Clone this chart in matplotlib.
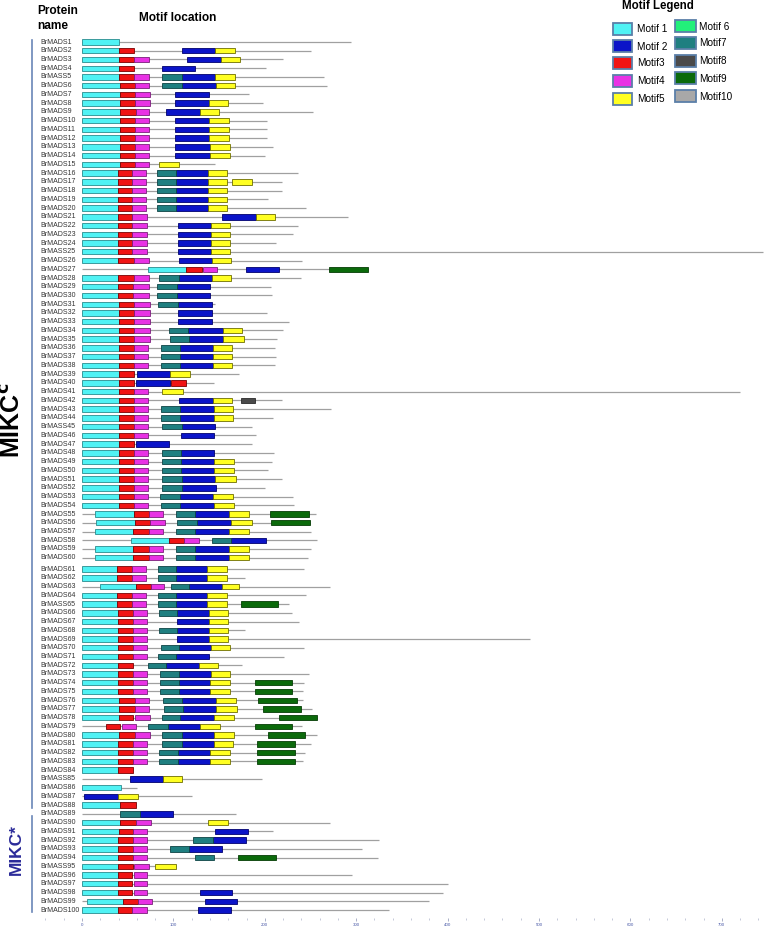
import matplotlib
matplotlib.use("Agg")
import matplotlib.pyplot as plt
from matplotlib.patches import Rectangle
from matplotlib.ticker import MultipleLocator

plt.rcParams['font.family'] = ['Liberation Sans', 'DejaVu Sans']

W, H = 766, 927

proteins = [
 "BrMADS1","BrMADS2","BrMADS3","BrMADS4","BrMASS5","BrMADS6","BrMADS7","BrMADS8","BrMADS9","BrMADS10",
 "BrMADS11","BrMADS12","BrMADS13","BrMADS14","BrMADS15","BrMADS16","BrMADS17","BrMADS18","BrMADS19","BrMADS20",
 "BrMADS21","BrMADS22","BrMADS23","BrMADS24","BrMASS25","BrMADS26","BrMADS27","BrMADS28","BrMADS29","BrMADS30",
 "BrMADS31","BrMADS32","BrMADS33","BrMADS34","BrMADS35","BrMADS36","BrMADS37","BrMADS38","BrMADS39","BrMADS40",
 "BrMADS41","BrMADS42","BrMADS43","BrMADS44","BrMASS45","BrMADS46","BrMADS47","BrMADS48","BrMADS49","BrMADS50",
 "BrMADS51","BrMADS52","BrMADS53","BrMADS54","BrMADS55","BrMADS56","BrMADS57","BrMADS58","BrMADS59","BrMADS60",
 "BrMADS61","BrMADS62","BrMADS63","BrMADS64","BrMASS65","BrMADS66","BrMADS67","BrMADS68","BrMADS69","BrMADS70",
 "BrMADS71","BrMADS72","BrMADS73","BrMADS74","BrMADS75","BrMADS76","BrMADS77","BrMADS78","BrMADS79","BrMADS80",
 "BrMADS81","BrMADS82","BrMADS83","BrMADS84","BrMASS85","BrMADS86","BrMADS87","BrMADS88","BrMADS89","BrMADS90",
 "BrMADS91","BrMADS92","BrMADS93","BrMADS94","BrMASS95","BrMADS96","BrMADS97","BrMADS98","BrMADS99","BrMADS100"]

lengths = [
 294,251,220,201,265,268,183,198,253,202,
 202,202,209,200,145,236,219,219,204,245,
 291,236,231,212,745,241,313,240,207,208,
 146,202,226,220,213,211,212,211,172,144,
 720,219,272,209,186,190,186,210,208,204,
 219,200,231,232,256,249,251,257,250,247,
 243,178,271,245,226,230,237,178,490,243,
 221,175,248,243,242,242,252,257,241,257,
 250,244,242,56,197,60,120,59,168,271,
 209,325,306,324,103,295,400,395,380,336]

# (row, start, end)
motif1 = [
 (1,0,40),(2,0,40),(3,0,40),(4,0,40),(5,0,40),(6,0,42),(7,0,42),(8,0,42),(9,0,42),(10,0,42),
 (11,0,42),(12,0,42),(13,0,42),(14,0,42),(15,0,42),(16,0,39),(17,0,39),(18,0,39),(19,0,39),(20,0,39),
 (21,0,39),(22,0,39),(23,0,39),(24,0,39),(25,0,39),(26,0,39),(27,72,114),(28,0,39),(29,0,39),(30,0,39),
 (31,0,40),(32,0,40),(33,0,40),(34,0,40),(35,0,40),(36,0,40),(37,0,40),(38,0,40),(39,0,40),(40,0,40),
 (41,0,40),(42,0,40),(43,0,40),(44,0,40),(45,0,40),(46,0,40),(47,0,40),(48,0,40),(49,0,40),(50,0,40),
 (51,0,40),(52,0,40),(53,0,40),(54,0,40),(55,14,57),(56,15,58),(57,14,56),(58,54,95),(59,14,56),(60,14,56),
 (61,0,38),(62,0,38),(63,20,59),(64,0,38),(65,0,38),(66,0,39),(67,0,39),(68,0,39),(69,0,39),(70,0,39),
 (71,0,39),(72,0,39),(73,0,39),(74,0,39),(75,0,39),(76,0,40),(77,0,40),(78,0,40),(80,0,40),
 (81,0,39),(82,0,39),(83,0,39),(84,0,39),(86,0,43),(88,0,42),(90,0,42),
 (91,0,41),(92,0,39),(93,0,39),(94,0,39),(95,0,39),(96,0,39),(97,0,39),(98,0,39),(99,6,45),(100,0,39)]

motif2 = [
 (2,109,145),(3,115,152),(4,88,124),(5,109,146),(6,109,147),(7,102,139),(8,102,139),(9,92,129),
 (10,102,139),(11,102,139),(12,102,139),(13,102,140),(14,102,140),(16,103,138),(17,103,138),
 (18,103,138),(19,103,138),(20,103,138),(21,153,190),(22,105,141),(23,105,141),(24,105,141),
 (25,105,141),(26,106,142),(27,179,216),(28,106,142),(29,104,140),(30,104,140),(31,105,142),
 (32,105,142),(33,105,142),(34,116,154),(35,117,154),(36,107,143),(37,107,143),(38,107,143),
 (39,60,96),(40,59,96),(42,106,143),(43,107,144),(44,107,144),(45,109,146),(46,108,144),
 (47,59,95),(48,108,144),(49,108,144),(50,108,144),(51,109,146),(52,109,147),(53,107,143),
 (54,107,144),(55,124,161),(56,126,163),(57,124,161),(58,163,201),(59,124,161),(60,124,161),
 (61,103,137),(62,103,137),(63,117,153),(64,103,137),(65,103,137),(66,104,139),(67,104,139),
 (68,104,139),(69,104,139),(70,106,141),(71,103,139),(72,92,128),(73,106,141),(74,106,140),
 (75,106,140),(76,109,147),(77,111,147),(78,107,144),(79,94,129),(80,109,144),(81,109,144),
 (82,105,140),(83,105,140),(85,52,89),(87,2,39),(89,63,100),(91,146,182),(92,143,179),
 (93,117,153),(98,129,164),(99,135,170),(100,127,163)]

motif3 = [
 (2,40,57),(3,40,57),(4,40,57),(5,40,57),(6,42,58),(7,42,58),(8,42,58),(9,42,59),(10,42,58),
 (11,42,58),(12,42,58),(13,42,58),(14,42,58),(15,42,58),(16,39,55),(17,39,55),(18,39,55),
 (19,39,55),(20,39,55),(21,39,55),(22,39,55),(23,39,55),(24,39,55),(25,39,55),(26,39,57),
 (27,114,131),(28,39,57),(29,39,56),(30,39,56),(31,40,57),(32,40,57),(33,40,57),(34,40,57),
 (35,40,57),(36,40,57),(37,40,57),(38,40,57),(39,40,57),(40,40,57),(40,97,114),(41,40,57),
 (42,40,57),(43,40,57),(44,40,57),(45,40,57),(46,40,57),(47,40,57),(48,40,57),(49,40,57),
 (50,40,57),(51,40,57),(52,40,57),(53,40,57),(54,40,57),(55,57,73),(56,58,74),(57,56,73),
 (58,95,112),(59,56,73),(60,56,73),(61,38,55),(62,38,55),(63,59,75),(64,38,55),(65,38,55),
 (66,39,56),(67,39,56),(68,39,56),(69,39,56),(70,39,56),(71,39,56),(72,39,56),(73,39,56),
 (74,39,56),(75,39,56),(76,40,58),(77,40,58),(78,40,56),(79,26,42),(80,40,58),(81,39,56),
 (82,39,56),(83,39,56),(84,39,56),(88,42,59),(90,42,59),(91,41,56),(92,39,56),(93,39,56),
 (94,39,56),(95,39,56),(96,39,55),(97,39,55),(98,39,55),(99,45,61),(100,39,55)]

motif4 = [
 (3,57,73),(5,57,73),(6,58,73),(7,58,74),(8,58,74),(9,59,73),(10,58,73),(11,58,73),(12,58,73),
 (13,58,73),(14,58,73),(15,58,73),(16,55,70),(17,55,70),(18,55,70),(19,55,70),(20,55,70),
 (21,55,71),(22,55,71),(23,55,71),(24,55,71),(25,55,71),(26,57,73),(27,132,148),(28,57,73),
 (29,56,73),(30,56,73),(31,57,74),(32,57,74),(33,57,74),(34,57,74),(35,57,74),(36,57,72),
 (37,57,72),(38,57,72),(41,57,72),(42,57,72),(43,57,72),(44,57,72),(45,57,72),(46,57,72),
 (48,57,72),(49,57,72),(50,57,72),(51,57,72),(52,57,72),(53,57,72),(54,57,72),(55,73,89),
 (56,74,91),(57,73,89),(58,112,128),(59,73,89),(60,73,89),(61,55,70),(62,55,70),(63,75,90),
 (64,55,70),(65,55,70),(66,56,71),(67,56,71),(68,56,71),(69,56,71),(70,56,71),(71,56,71),
 (73,56,71),(74,56,71),(75,56,71),(76,58,73),(77,58,73),(78,58,74),(79,44,59),(80,58,74),
 (81,56,71),(82,56,71),(83,56,71),(90,59,75),(91,56,71),(92,56,71),(93,56,71),(94,56,71),
 (95,57,73),(96,57,71),(97,57,71),(98,57,71),(99,61,77),(100,55,71)]

motif5 = [
 (2,146,167),(3,152,173),(5,146,167),(6,147,167),(8,139,160),(9,129,150),(10,139,161),
 (11,139,161),(12,139,161),(13,140,162),(14,140,162),(15,84,106),(16,138,159),(17,138,159),
 (17,164,186),(18,138,159),(19,138,159),(20,138,159),(21,190,211),(22,141,162),(23,141,162),
 (24,141,162),(25,141,162),(26,142,163),(28,142,163),(34,154,175),(35,154,177),(36,143,164),
 (37,143,164),(38,143,164),(39,96,118),(41,88,111),(42,143,164),(43,144,165),(44,144,165),
 (49,144,166),(50,144,166),(51,146,168),(53,143,165),(54,144,166),(55,161,183),(56,163,186),
 (57,161,183),(59,161,183),(60,161,183),(61,137,159),(62,137,159),(63,153,172),(64,137,159),
 (65,137,159),(66,139,160),(67,139,160),(68,139,160),(69,139,160),(70,141,162),(72,128,149),
 (73,141,162),(74,140,162),(75,140,162),(76,147,168),(77,147,170),(78,144,166),(79,129,151),
 (80,144,166),(81,144,165),(82,140,162),(83,140,162),(85,89,109),(87,39,61),(90,138,160),
 (95,80,103)]

motif6 = []

motif7 = [
 (5,88,109),(6,88,109),(16,82,103),(17,82,103),(18,82,103),(19,82,103),(20,82,103),
 (28,84,106),(29,82,104),(30,82,104),(31,83,105),(34,95,116),(35,96,117),(36,86,107),
 (37,86,107),(38,86,107),(43,86,107),(44,86,107),(45,88,109),(48,88,108),(49,88,108),
 (50,88,108),(51,88,109),(52,88,109),(53,85,107),(54,86,107),(55,103,124),(56,104,126),
 (57,103,124),(58,142,163),(59,103,124),(60,103,124),(61,83,103),(62,83,103),(63,97,117),
 (64,83,103),(65,83,103),(66,84,104),(68,84,104),(70,86,106),(71,83,103),(72,72,92),
 (73,85,106),(74,85,106),(75,85,106),(76,89,109),(77,90,111),(78,88,107),(79,72,94),
 (80,88,109),(81,88,109),(82,84,105),(83,84,105),(89,42,63),(92,121,143),(93,96,117),
 (94,124,144)]

motif8 = [(42,174,189)]

motif9 = [
 (27,270,313),(55,206,248),(56,207,249),(65,174,214),(74,189,230),(75,189,230),(76,193,235),
 (77,198,240),(78,216,257),(79,189,230),(80,203,244),(81,191,233),(82,191,233),(83,191,233),
 (94,171,212)]

motif10 = []

legend_labels = ["Motif 1", "Motif 2", "Motif3", "Motif4", "Motif5",
                 "Motif 6", "Motif7", "Motif8", "Motif9", "Motif10"]
tick_values = [0, 100, 200, 300, 400, 500, 600, 700]

face = ['#50f2f4', '#0b14c8', '#f01414', '#e832e4', '#ffff22',
        '#22f07a', '#1f7f80', '#4a4a4a', '#0b6a0b', '#a8a8a8']
edge = ['#2a8c8e', '#00006e', '#7a0000', '#7a207a', '#6e6e00',
        '#107040', '#0e4444', '#2a2a2a', '#053d05', '#6a6a6a']
motifs = [motif1, motif2, motif3, motif4, motif5, motif6, motif7, motif8, motif9, motif10]

fig = plt.figure(figsize=(W / 100, H / 100), dpi=100)

def fx(px):
    return px / W

def fy(py):
    return 1 - py / H

# axes geometry (pixels)
ax_left_px, ax_right_px = 40, 766
ax_top_px, ax_bot_px = 38, 918
ax = fig.add_axes([fx(ax_left_px), fy(ax_bot_px), fx(ax_right_px - ax_left_px), (ax_bot_px - ax_top_px) / H])

px_per_unit = 0.914
x0 = -(82 - ax_left_px) / px_per_unit
x1 = x0 + (ax_right_px - ax_left_px) / px_per_unit
ax.set_xlim(x0, x1)

row_gap_after = 60
def rowy(r):
    return r + (0.3 if r > row_gap_after else 0.0)

row_px = (910 - 42) / (99 + 0.3)
ytop = 1 - (42 - ax_top_px) / row_px
ybot = rowy(100) + (ax_bot_px - 910) / row_px
ax.set_ylim(ybot, ytop)

for s in ax.spines.values():
    s.set_visible(False)
ax.set_yticks([])
ax.set_xticks(tick_values)
ax.xaxis.set_minor_locator(MultipleLocator(20))
ax.tick_params(axis='x', which='major', length=2, width=0.5, color='#8890b0',
               labelsize=3.2, labelcolor='#4a5aa8', pad=1.5)
ax.tick_params(axis='x', which='minor', length=1.5, width=0.4, color='#9aa0bb')

bar_h = 0.62
for i, (name, L) in enumerate(zip(proteins, lengths)):
    r = i + 1
    y = rowy(r)
    ax.hlines(y, 0, L, color='#a0a0a0', lw=0.9, zorder=1)
    ax.text(x0 + 0.5, y, name, ha='left', va='center', fontsize=5.0, color='#333333')

for k, segs in enumerate(motifs):
    for (r, a, b) in segs:
        y = rowy(r)
        ax.add_patch(Rectangle((a, y - bar_h / 2), b - a, bar_h, facecolor=face[k],
                               edgecolor=edge[k], lw=0.6, zorder=3))

# headers
fig.text(fx(37), fy(11), "Protein", fontsize=8.6, fontweight='bold', ha='left', va='center')
fig.text(fx(37), fy(26), "name", fontsize=8.6, fontweight='bold', ha='left', va='center')
fig.text(fx(139), fy(18), "Motif location", fontsize=8.6, fontweight='bold', ha='left', va='center')
fig.text(fx(622), fy(6), "Motif Legend", fontsize=8.3, fontweight='bold', ha='left', va='center')

# legend
col1_boxes = [(613, 23), (613, 40), (613, 57), (613, 75), (613, 93)]
col2_boxes = [(675, 20), (675, 37), (675, 55), (675, 72), (675, 90)]
boxes = col1_boxes + col2_boxes
for k, (bx, by) in enumerate(boxes):
    bw = 19 if k < 5 else 21
    bh = 12
    fig.patches.append(Rectangle((fx(bx), fy(by + bh)), bw / W, bh / H, transform=fig.transFigure,
                                 facecolor=face[k], edgecolor='#5b7fa8', lw=1.3))
    lx = bx + bw + 5 if k < 5 else bx + bw + 3
    fig.text(fx(lx), fy(by + bh / 2 + 0.5), legend_labels[k], fontsize=7.2, ha='left', va='center')

# group brackets
fig.add_artist(plt.Line2D([fx(32), fx(32)], [fy(40), fy(808)], color='#6a86b8', lw=1.2))
fig.add_artist(plt.Line2D([fx(32), fx(32)], [fy(816), fy(912)], color='#6a86b8', lw=1.2))
fig.text(fx(13), fy(420), r"MIKC$^\mathbf{c}$", fontsize=18, fontweight='bold', rotation=90,
         ha='center', va='center', color='black')
fig.text(fx(16), fy(850), "MIKC*", fontsize=12.5, fontweight='bold', rotation=90,
         ha='center', va='center', color='#2b2b99')

fig.savefig("out.png", dpi=100)
